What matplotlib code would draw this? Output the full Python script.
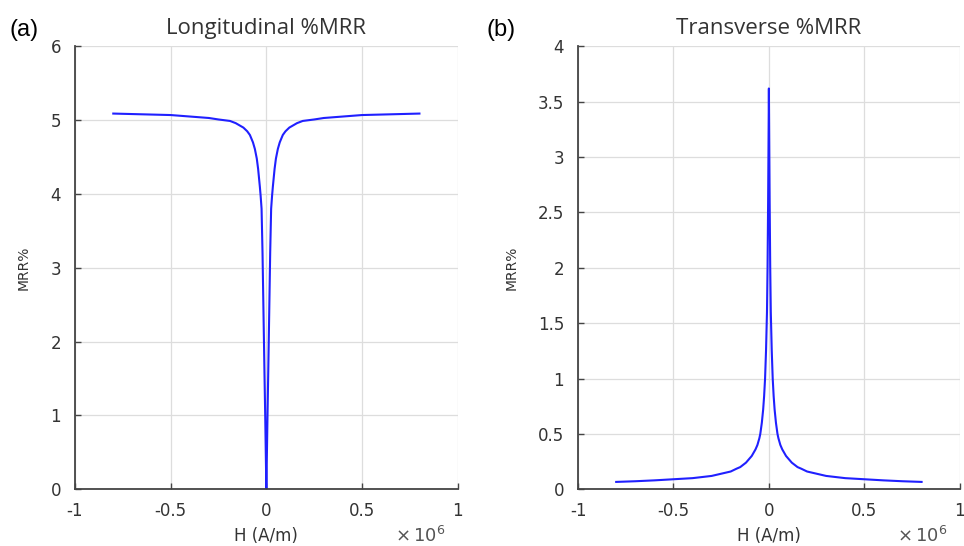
import matplotlib.pyplot as plt
import numpy as np

plt.rcParams['axes.unicode_minus'] = False
plt.rcParams['font.family'] = 'DejaVu Sans'

# H in units of 1e6 A/m (positive half, mirrored)
h_long = [0, 0.003, 0.006, 0.01, 0.015, 0.02, 0.025, 0.03, 0.034, 0.043, 0.05,
          0.06, 0.07, 0.086, 0.1, 0.12, 0.14, 0.16, 0.19, 0.25, 0.3, 0.4, 0.5,
          0.65, 0.8]
mrr_long = [0, 0.5, 1.0, 1.6, 2.4, 3.2, 3.8, 3.98, 4.1, 4.34, 4.48,
            4.61, 4.7, 4.8, 4.85, 4.9, 4.93, 4.96, 4.99, 5.01, 5.03, 5.05, 5.07,
            5.08, 5.09]

h_trans = [0, 0.002, 0.004, 0.007, 0.01, 0.015, 0.02, 0.025, 0.03, 0.037, 0.045,
           0.05, 0.06, 0.07, 0.08, 0.09, 0.1, 0.12, 0.15, 0.17, 0.2, 0.25, 0.3,
           0.35, 0.4, 0.45, 0.5, 0.6, 0.7, 0.8]
mrr_trans = [3.62, 3.1, 2.6, 2.0, 1.6, 1.25, 1.0, 0.84, 0.72, 0.6, 0.5,
             0.46, 0.4, 0.36, 0.33, 0.3, 0.28, 0.24, 0.2, 0.185, 0.16, 0.14, 0.12,
             0.11, 0.1, 0.095, 0.09, 0.08, 0.072, 0.066]

xticks = [-1, -0.5, 0, 0.5, 1]
xlabels = ['-1', '-0.5', '0', '0.5', '1']
yticks_a = [0, 1, 2, 3, 4, 5, 6]
yticks_b = [0, 0.5, 1, 1.5, 2, 2.5, 3, 3.5, 4]


def mirror(h, v):
    h = np.array(h)
    v = np.array(v)
    return np.concatenate([-h[::-1], h[1:]]), np.concatenate([v[::-1], v[1:]])


fig = plt.figure(figsize=(9.64, 5.46), dpi=100)
axa = fig.add_axes([0.0778, 0.104, 0.397, 0.811])
axb = fig.add_axes([0.5996, 0.104, 0.396, 0.811])

panels = [
    (axa, h_long, mrr_long, yticks_a, 'Longitudinal %MRR', '(a)', 0.010),
    (axb, h_trans, mrr_trans, yticks_b, 'Transverse %MRR', '(b)', 0.505),
]

for ax, h, v, yt, title, tag, tx in panels:
    x, y = mirror(h, v)
    ax.plot(x, y, color='#2020ff', lw=1.5)
    ax.set_xlim(-1, 1)
    ax.set_ylim(yt[0], yt[-1])
    ax.set_xticks(xticks)
    ax.set_xticklabels(xlabels)
    ax.set_yticks(yt)
    ax.set_yticklabels(['%g' % t for t in yt])
    ax.grid(True, color='#dddddd', lw=0.9)
    ax.set_axisbelow(True)
    for s in ['top', 'right']:
        ax.spines[s].set_visible(False)
    for s in ['left', 'bottom']:
        ax.spines[s].set_color('#444444')
        ax.spines[s].set_linewidth(1.3)
    ax.tick_params(direction='in', length=4, width=1, colors='#444444',
                   labelsize=12, labelcolor='#333333')
    ax.tick_params(axis='x', pad=9)
    ax.tick_params(axis='y', pad=10)
    ax.set_xlabel('H (A/m)', fontsize=12, color='#333333', labelpad=5)
    ax.set_ylabel('MRR%', fontsize=10, color='#333333', labelpad=14)
    ax.set_title(title, fontsize=16, family='Open Sans', color='#333333', pad=9)
    ax.text(0.835, -0.105, r'$\times\,10^{6}$', transform=ax.transAxes,
            fontsize=13, color='#555555', va='center')
    fig.text(tx, 0.945, tag, fontsize=17, family='Liberation Sans', va='center')

fig.savefig('out.png', dpi=100)
